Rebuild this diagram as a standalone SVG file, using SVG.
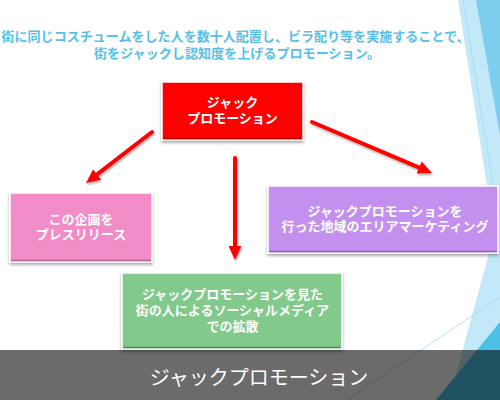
<svg xmlns="http://www.w3.org/2000/svg" width="500" height="400" viewBox="0 0 500 400">
<defs>
<filter id="sh" x="-10%" y="-10%" width="120%" height="130%">
<feDropShadow dx="0" dy="2" stdDeviation="1.5" flood-color="#000" flood-opacity="0.35"/>
</filter>
<filter id="ash" filterUnits="userSpaceOnUse" x="0" y="0" width="500" height="400">
<feDropShadow dx="1" dy="2" stdDeviation="1.2" flood-color="#000" flood-opacity="0.3"/>
</filter>
<marker id="ah" markerUnits="userSpaceOnUse" markerWidth="15" markerHeight="13" refX="2" refY="6.5" orient="auto">
<path d="M0,0 L14,6.5 L0,13 z" fill="#ff0000"/>
</marker>
</defs>
<style>
.box{stroke:#ffffff;stroke-width:1.5;filter:url(#sh)}
.lbl{font-family:"Noto Sans CJK JP","Noto Sans",sans-serif;font-weight:bold;font-size:13px;fill:#ffffff;text-anchor:middle}
.arr{stroke:#ff0000;stroke-width:4;stroke-linecap:round;fill:none;marker-end:url(#ah)}
.deco{stroke:#9ddcf4;stroke-width:0.8;fill:none}
</style>
<rect width="500" height="400" fill="#ffffff"/>
<g id="decoration">
<polygon points="458,0 500,0 500,270" fill="#c3e8f7"/>
<polygon points="476,0 500,0 500,135" fill="#7ccdee"/>
<line class="deco" x1="463" y1="0" x2="494" y2="190"/>
<polygon points="500,213 500,400 449,400" fill="#c3e8f7"/>
<polygon points="500,322 500,400 436,400" fill="#4dc0e8"/>
<line class="deco" x1="347" y1="400" x2="500" y2="297"/>
</g>
<g id="intro">
<text font-family="'Noto Sans CJK JP','Noto Sans',sans-serif" font-weight="bold" font-size="13" fill="#55c0ea" text-anchor="middle">
<tspan x="237" y="41" textLength="468" lengthAdjust="spacingAndGlyphs">街に同じコスチュームをした人を数十人配置し、ビラ配り等を実施することで、</tspan>
<tspan x="237" y="58" textLength="286" lengthAdjust="spacingAndGlyphs">街をジャックし認知度を上げるプロモーション。</tspan>
</text>
</g>
<g id="connectors" filter="url(#ash)">
<line class="arr" x1="152" y1="132" x2="95.5" y2="175.7"/>
<line class="arr" x1="235" y1="158" x2="235" y2="248"/>
<line class="arr" x1="312" y1="122" x2="421" y2="168.3"/>
</g>
<g id="node-jack">
<rect class="box" x="162" y="82" width="141" height="58" fill="#ff0000"/>
<line x1="163" y1="138.5" x2="302" y2="138.5" stroke="#c00000" stroke-width="1.5"/>
<text class="lbl"><tspan x="232.5" y="107">ジャック</tspan><tspan x="232.5" y="123">プロモーション</tspan></text>
</g>
<g id="node-press">
<rect class="box" x="10" y="193" width="142" height="69" fill="#f28cc8"/>
<line x1="11" y1="260.5" x2="151" y2="260.5" stroke="#b8639a" stroke-width="1.5"/>
<text class="lbl"><tspan x="81" y="224">この企画を</tspan><tspan x="81" y="239">プレスリリース</tspan></text>
</g>
<g id="node-area">
<rect class="box" x="268" y="186" width="230" height="67" fill="#c490f0"/>
<line x1="269" y1="251.5" x2="497" y2="251.5" stroke="#8e62b4" stroke-width="1.5"/>
<text class="lbl"><tspan x="385" y="215.5">ジャックプロモーションを</tspan><tspan x="385" y="230.5">行った地域のエリアマーケティング</tspan></text>
</g>
<g id="node-social">
<rect class="box" x="122" y="273" width="220" height="76" fill="#82c98c"/>
<line x1="123" y1="347.5" x2="341" y2="347.5" stroke="#4f8a58" stroke-width="1.5"/>
<text class="lbl"><tspan x="232.5" y="298.5">ジャックプロモーションを見た</tspan><tspan x="232.5" y="314.5">街の人によるソーシャルメディア</tspan><tspan x="232.5" y="331">での拡散</tspan></text>
</g>
<g id="title-bar">
<rect x="0" y="350" width="500" height="50" fill="#000000" fill-opacity="0.58"/>
<text x="259" y="385" font-family="'Noto Sans CJK JP','Noto Sans',sans-serif" font-size="20" fill="#ffffff" text-anchor="middle">ジャックプロモーション</text>
</g>
</svg>
